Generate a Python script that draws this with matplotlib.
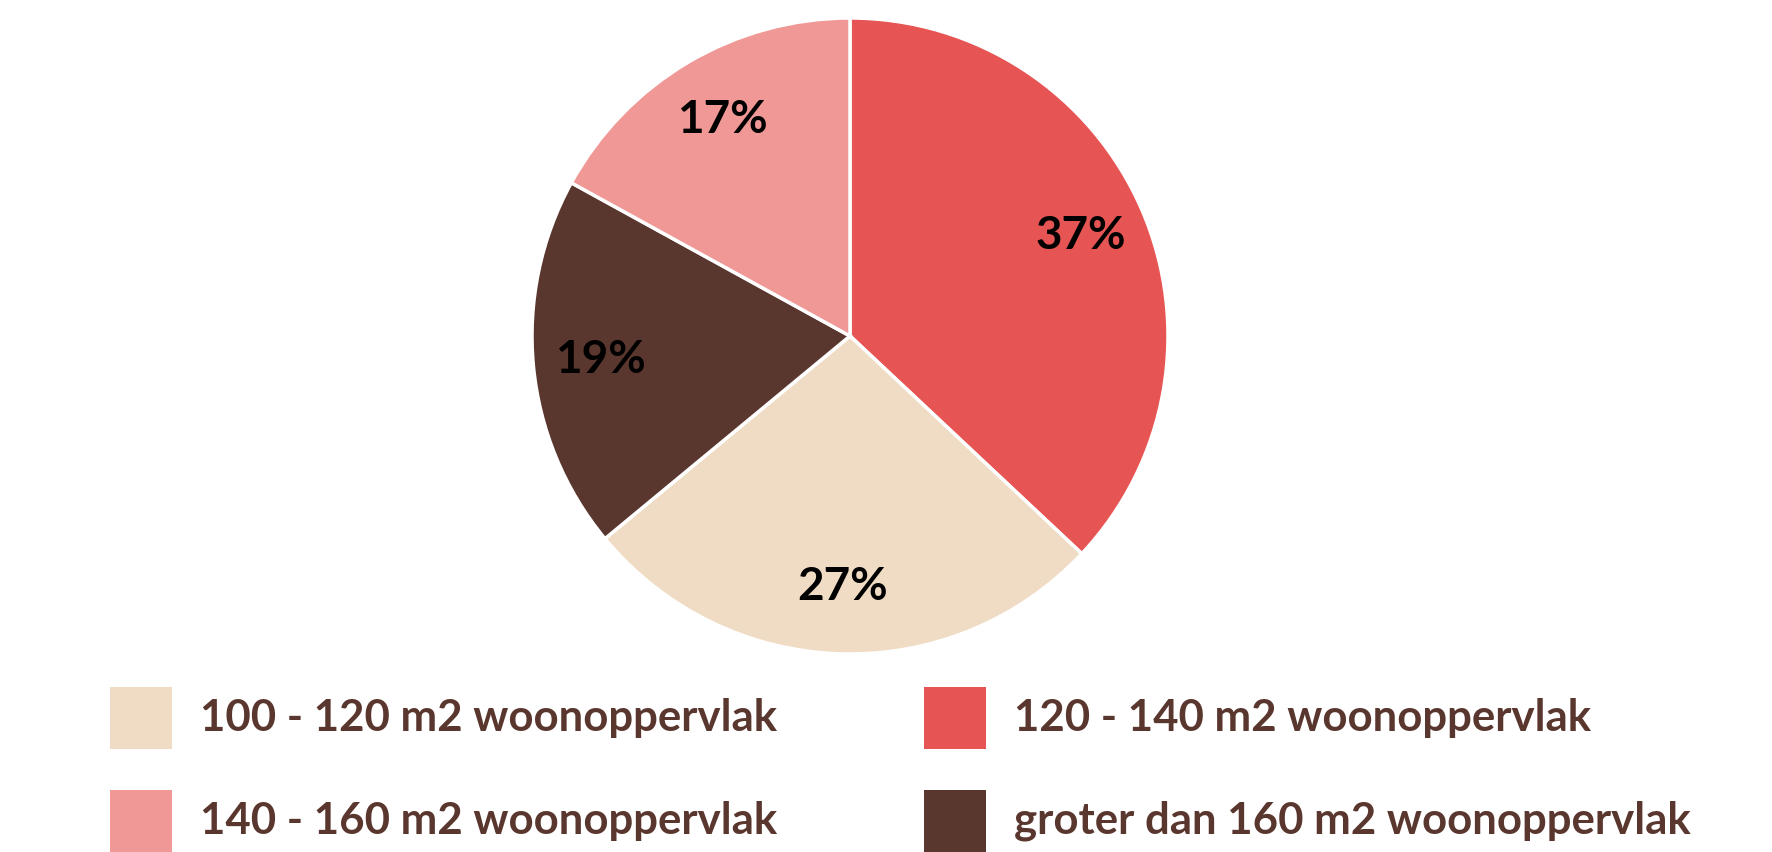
import matplotlib
matplotlib.use("Agg")
import matplotlib.pyplot as plt
from matplotlib.patches import Rectangle

# Data (legend order)
categories = ["100 - 120 m2 woonoppervlak", "120 - 140 m2 woonoppervlak",
              "140 - 160 m2 woonoppervlak", "groter dan 160 m2 woonoppervlak"]
values = [27, 37, 17, 19]
colors = ["#F0DCC4", "#E65553", "#EF9896", "#5A372E"]
# order of slices clockwise from top
pie_order = [1, 0, 3, 2]

text_color = "#5A372E"
FONT = "Lato"

W, H = 1772, 852
fig = plt.figure(figsize=(W / 100, H / 100), dpi=100)
ax = fig.add_axes([0, 0, 1, 1])
ax.set_xlim(0, W)
ax.set_ylim(0, H)
ax.set_aspect("equal")
ax.axis("off")

cx, cy, r = 850, H - 336, 318
wedges, texts, autotexts = ax.pie(
    [values[i] for i in pie_order],
    colors=[colors[i] for i in pie_order],
    startangle=90, counterclock=False,
    center=(cx, cy), radius=r,
    autopct="%d%%", pctdistance=0.79,
    wedgeprops=dict(edgecolor="white", linewidth=2.5),
    textprops=dict(fontsize=33, fontweight="bold", color="black", family=FONT),
)
ax.set_xlim(0, W)
ax.set_ylim(0, H)

# legend
col_x = [110, 924]
row_y = [H - 718, H - 821]
sq = 62
for i, lab in enumerate(categories):
    x = col_x[i % 2]
    y = row_y[i // 2]
    ax.add_patch(Rectangle((x, y - sq / 2), sq, sq, facecolor=colors[i], edgecolor="none"))
    ax.text(x + 90, y, lab, fontsize=31.5, fontweight="bold", color=text_color,
            family=FONT, va="center", ha="left")

fig.savefig("out.png", dpi=100)
